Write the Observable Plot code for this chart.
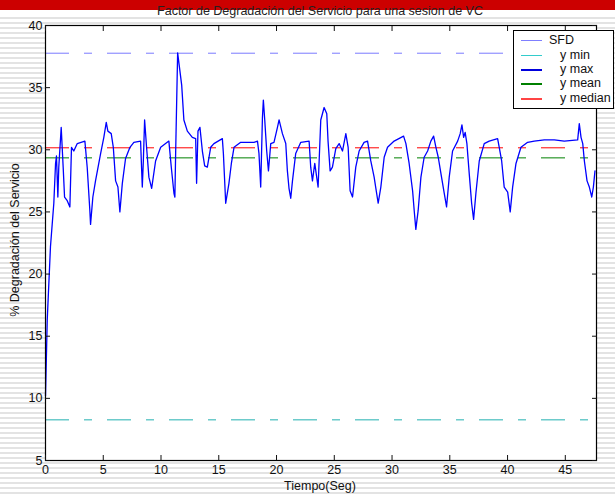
<!DOCTYPE html>
<html>
<head>
<meta charset="utf-8">
<script src="https://cdn.jsdelivr.net/npm/d3@7"></script>
<script src="https://cdn.jsdelivr.net/npm/@observablehq/plot@0.6"></script>
<style>
  html, body { margin: 0; padding: 0; }
  body {
    width: 615px; height: 495px; position: relative; overflow: hidden;
    font-family: "Liberation Sans", Arial, sans-serif;
    background-color: #fff;
    background-image: linear-gradient(to bottom, #e3e3e3 0, #e3e3e3 2px, #fff 2px, #fff 5px);
    background-size: 100% 5px;
    background-position: 0 2px;
  }
  #redbar { position: absolute; left: 0; top: 0; width: 615px; height: 10px; background: #cc0000; }
  #whitebar { position: absolute; left: 0; top: 10px; width: 615px; height: 7px; background: #fff; }
  #chart { position: absolute; left: 0; top: 0; }
  .lbl { position: absolute; color: #111; font-size: 12.5px; line-height: 14px; white-space: nowrap; }
  #title { left: 320px; top: 4px; transform: translateX(-50%); color: #222; }
  #xlabel { left: 320px; top: 479px; transform: translateX(-50%); }
  #ylabel { left: 15px; top: 240px; transform: translate(-50%, -50%) rotate(-90deg); }
  #legend { position: absolute; left: 513px; top: 30px; width: 99px; height: 77px;
    border: 1px solid #000; background: #fff; font-size: 12.5px; }
  .row { position: absolute; left: 0; height: 14px; width: 99px; }
  .row .s { position: absolute; left: 7px; top: 7px; width: 21px; height: 1.3px; }
  .row .t { position: absolute; top: 0px; line-height: 14px; color: #111; }
</style>
</head>
<body>
<div id="redbar"></div>
<div id="whitebar"></div>
<div id="chart"></div>
<div id="title" class="lbl">Factor de Degradación del Servicio para una sesion de VC</div>
<div id="xlabel" class="lbl">Tiempo(Seg)</div>
<div id="ylabel" class="lbl">% Degradación del Servicio</div>
<div id="legend"></div>
<script>
// ---- data ----
const tiempo = [0.00,0.15,0.43,0.72,0.87,0.95,1.07,1.15,1.36,1.53,1.65,1.88,2.11,2.25,2.45,2.75,3.41,3.61,3.84,3.90,4.10,4.33,4.77,5.05,5.26,5.40,5.69,5.87,6.07,6.27,6.44,6.65,6.93,7.31,7.65,8.23,8.38,8.47,8.58,8.75,8.95,9.19,9.53,9.97,10.68,10.89,11.12,11.20,11.27,11.44,11.79,11.98,12.28,12.71,13.00,13.08,13.20,13.37,13.58,13.78,14.01,14.30,14.58,15.31,15.40,15.60,15.88,16.09,16.32,16.90,18.05,18.35,18.48,18.63,18.78,18.86,18.98,19.15,19.30,19.50,19.78,20.08,20.22,20.51,20.80,20.94,21.08,21.23,21.38,21.66,22.10,22.82,22.96,23.11,23.31,23.60,23.83,24.12,24.35,24.46,24.64,24.84,25.13,25.42,25.71,26.00,26.20,26.37,26.58,26.86,27.15,27.58,27.88,28.16,28.45,28.60,28.80,29.03,29.32,29.61,30.18,31.00,31.20,31.48,31.78,31.92,32.06,32.26,32.50,32.78,33.08,33.36,33.60,33.80,34.00,34.23,34.52,34.72,34.95,35.24,35.68,35.90,36.05,36.20,36.33,36.48,36.68,36.89,37.06,37.26,37.55,37.98,38.41,39.14,39.28,39.49,39.71,40.01,40.23,40.44,40.73,41.16,41.74,42.31,43.18,44.05,44.91,46.07,46.21,46.36,46.51,46.65,46.88,47.08,47.29,47.43,47.57];
const sfd = [10.2,16.3,22.2,25.7,28.9,29.5,26.2,28.6,31.8,28.6,26.2,25.9,25.4,30.2,29.9,30.5,30.7,28.6,25.1,24.0,26.2,27.5,29.7,31.0,32.2,31.5,31.3,30.2,27.5,27.0,25.0,27.3,29.3,30.2,30.6,30.7,27.0,29.1,32.4,30.2,27.8,26.9,29.1,30.2,30.7,28.6,26.5,26.2,29.9,37.8,35.2,32.4,31.5,31.0,30.9,27.3,31.5,31.8,29.9,28.7,28.6,30.2,30.5,30.9,29.7,25.7,27.3,28.9,30.2,30.6,30.6,30.7,29.7,27.0,32.6,34.0,32.4,29.9,28.3,30.5,30.6,31.8,32.4,31.3,30.5,28.3,26.9,26.1,27.5,29.7,30.6,30.7,28.6,27.5,28.9,27.0,32.4,33.4,32.9,30.7,28.3,28.6,30.1,30.5,29.9,31.3,30.2,26.7,26.2,28.6,29.9,30.6,30.7,29.1,27.8,26.9,25.7,27.0,29.4,30.2,30.7,31.1,30.5,28.9,26.7,25.1,23.6,25.1,27.8,29.4,29.9,30.7,31.1,30.2,29.4,28.1,26.5,25.4,27.8,29.9,30.7,31.3,32.0,31.0,31.4,30.5,28.1,25.7,24.4,26.5,29.1,30.5,30.7,30.9,30.2,29.1,27.0,26.6,25.0,27.0,28.9,30.2,30.6,30.7,30.8,30.8,30.7,30.8,32.1,31.0,30.5,29.1,27.5,27.0,26.2,27.0,28.3];
const yMin = 8.27;
const yMax = 37.77;
const yMean = 29.35;
const yMedian = 30.16;
const xTicks = [0, 5, 10, 15, 20, 25, 30, 35, 40, 45];
const yTicks = [5, 10, 15, 20, 25, 30, 35, 40];
const legendLabels = ["SFD", "y min", "y max", "y mean", "y median"];
const legendColors = ["#7f7fff", "#33cccc", "#0000dd", "#008000", "#ff4444"];

const series = tiempo.map((t, i) => ({t, v: sfd[i]}));
const dash = "24,15,8,15";

const chart = Plot.plot({
  width: 615,
  height: 495,
  marginLeft: 45,
  marginRight: 19,
  marginTop: 25,
  marginBottom: 35,
  style: {background: "transparent", fontFamily: "'Liberation Sans', Arial, sans-serif", fontSize: "12.5px", color: "#111"},
  x: {domain: [0, 47.7], label: null},
  y: {domain: [5, 40], label: null},
  marks: [
    Plot.frame({fill: "white", stroke: null}),
    Plot.ruleY([yMax], {stroke: "#7b7bff", strokeDasharray: dash}),
    Plot.ruleY([yMin], {stroke: "#20b0b0", strokeDasharray: dash}),
    Plot.ruleY([yMedian], {stroke: "#ff0000", strokeDasharray: dash}),
    Plot.ruleY([yMean], {stroke: "#008000", strokeDasharray: dash}),
    Plot.line(series, {x: "t", y: "v", stroke: "#0000ff", strokeWidth: 1.3}),
    Plot.frame({stroke: "#000", strokeWidth: 1.2}),
    Plot.axisX(xTicks, {anchor: "bottom", tickSize: -5, tickPadding: 10, label: null, fill: "#111"}),
    Plot.axisX(xTicks, {anchor: "top", tickSize: -5, tickFormat: () => "", label: null}),
    Plot.axisY(yTicks, {anchor: "left", tickSize: -5, tickPadding: 8, label: null, fill: "#111"}),
    Plot.axisY(yTicks, {anchor: "right", tickSize: -5, tickFormat: () => "", label: null})
  ]
});
document.getElementById("chart").appendChild(chart);

const leg = document.getElementById("legend");
const tops = [2, 16.7, 31.3, 45.3, 60.3];
legendLabels.forEach((lab, i) => {
  const r = document.createElement("div");
  r.className = "row";
  r.style.top = tops[i] + "px";
  const s = document.createElement("div");
  s.className = "s";
  s.style.background = legendColors[i];
  const t = document.createElement("div");
  t.className = "t";
  t.style.left = (i === 0 ? 35 : 46) + "px";
  t.textContent = lab;
  r.appendChild(s); r.appendChild(t);
  leg.appendChild(r);
});
</script>
</body>
</html>
